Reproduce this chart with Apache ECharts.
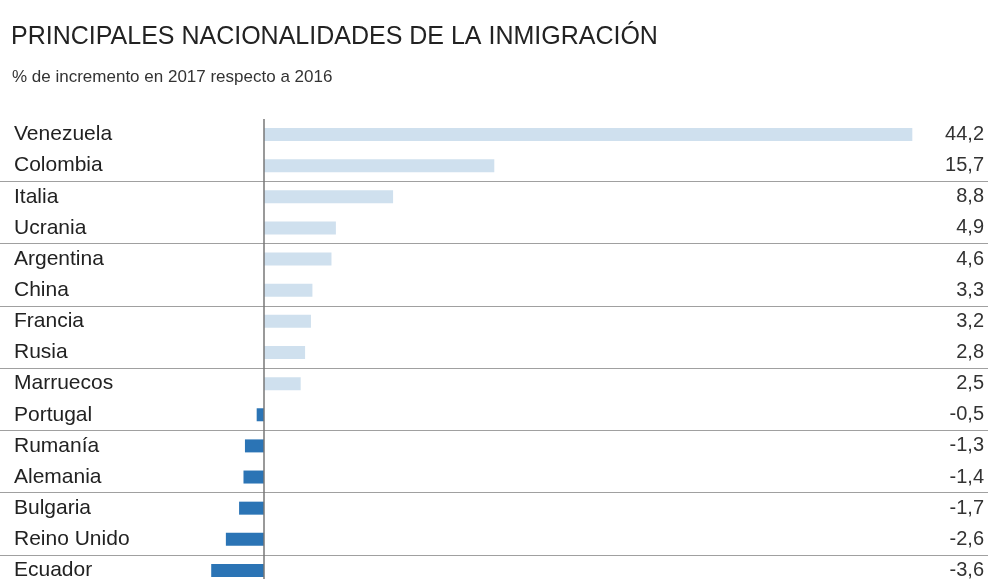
<!DOCTYPE html>
<html>
<head>
<meta charset="utf-8">
<script src="https://cdn.jsdelivr.net/npm/echarts@6/dist/echarts.min.js"></script>
<style>
html,body{margin:0;padding:0;background:#fff;overflow:hidden;}
#c{width:988px;height:586px;}
</style>
</head>
<body>
<div id="c"></div>
<script>
var categories = ['Venezuela','Colombia','Italia','Ucrania','Argentina','China','Francia','Rusia','Marruecos','Portugal','Rumanía','Alemania','Bulgaria','Reino Unido','Ecuador'];
var values = [44.2,15.7,8.8,4.9,4.6,3.3,3.2,2.8,2.5,-0.5,-1.3,-1.4,-1.7,-2.6,-3.6];
var titleText = 'PRINCIPALES NACIONALIDADES DE LA INMIGRACIÓN';
var subtitleText = '% de incremento en 2017 respecto a 2016';

var POS = '#cfe0ee', NEG = '#2b74b5';
function fmt(v){ return String(v.toFixed(1)).replace('.', ','); }

var chart = echarts.init(document.getElementById('c'));
chart.setOption({
  animation: false,
  backgroundColor: '#fff',
  title: [
    {text: titleText, left: 6, top: 20, textStyle: {fontFamily: 'Liberation Sans, Arial, sans-serif', fontSize: 25, fontWeight: 'normal', color: '#222'}},
    {text: subtitleText, left: 7, top: 64, textStyle: {fontFamily: 'Liberation Sans, Arial, sans-serif', fontSize: 17, fontWeight: 'normal', color: '#333'}}
  ],
  grid: {left: 0, right: 0, top: 119, bottom: 0, containLabel: false},
  xAxis: {
    type: 'value', min: -18, max: 49.36, show: false,
    splitLine: {show: false}
  },
  yAxis: [
    {
      type: 'category', data: categories, inverse: true, position: 'left',
      axisLine: {show: false, onZero: false}, axisTick: {show: false},
      axisLabel: {inside: true, margin: 14, color: '#222', fontSize: 21, fontFamily: 'Liberation Sans, Arial, sans-serif'},
      splitLine: {show: true, interval: function(i){ return i > 0 && i % 2 === 0; }, lineStyle: {color: '#a0a0a0', width: 1}}
    },
    {
      type: 'category', data: values.map(fmt), inverse: true, position: 'right',
      axisLine: {show: false, onZero: false}, axisTick: {show: false},
      axisLabel: {inside: true, margin: 4, color: '#333', fontSize: 20, fontFamily: 'Liberation Sans, Arial, sans-serif'},
      splitLine: {show: false}
    }
  ],
  series: [{
    type: 'bar',
    yAxisIndex: 0,
    barWidth: 13,
    data: values.map(function(v){ return {value: v, itemStyle: {color: v >= 0 ? POS : NEG}}; }),
    markLine: {
      silent: true, symbol: 'none', label: {show: false},
      lineStyle: {color: '#777', width: 1.5, type: 'solid'},
      data: [{xAxis: 0}]
    }
  }]
});
</script>
</body>
</html>
